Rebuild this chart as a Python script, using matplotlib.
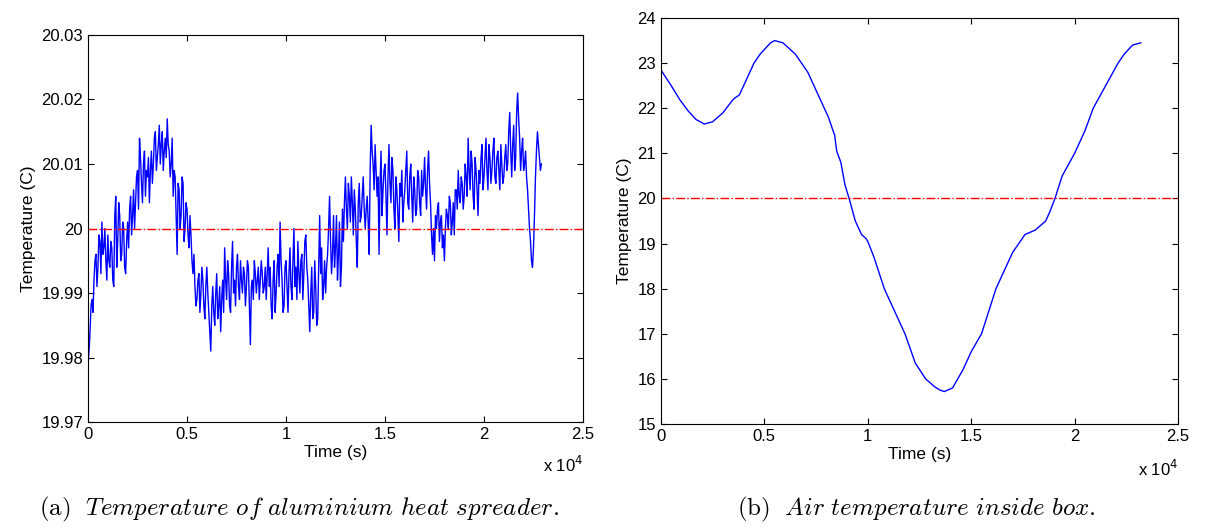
import matplotlib
matplotlib.use("Agg")
import matplotlib.pyplot as plt

plt.rcParams["font.family"] = ["Liberation Sans", "DejaVu Sans"]
plt.rcParams["mathtext.fontset"] = "cm"

# (a) heat spreader temperature, deviation from 20 C in mK
# readings at t = 0, 100, 200, ... s
spreader_mk = [
    -21, -16, -11, -8, -4, -6, -2, 1, -3, -5,
    -1, -6, -3, -9, 5, -2, 2, -4, 0, -7,
    1, 3, -1, 6, 4, 9, 14, 7, 10, 5,
    8, 4, 12, 10, 15, 11, 16, 13, 9, 14,
    17, 12, 10, 5, 8, -4, 6, 2, 7, 0,
    3, -3, -1, -7, -9, -11, -7, -10, -8, -14,
    -6, -13, -19, -9, -15, -7, -12, -16, -8, -3,
    -11, -7, -13, -2, -8, -6, -9, -5, -10, -7,
    -9, -6, -18, -8, -5, -10, -6, -8, -7, -9,
    -11, -3, -6, -14, -5, -10, -4, 1, -8, -12,
    -5, -13, -3, -11, 0, -6, -2, -10, -4, -7,
    -1, -8, -16, -6, -13, -9, -14, 2, -3, -9,
    -10, -4, 5, -7, 2, -3, -8, 1, -6, -2,
    8, 0, 5, 8, -1, 3, -6, 7, 2, 8,
    0, 5, -4, 16, 10, 13, 5, -4, 12, 6,
    10, -1, 13, 4, 9, 0, 6, -2, 5, 1,
    6, 12, 3, 10, 1, 6, 3, 8, 2, 5,
    11, 3, 12, 4, -4, -5, 0, 4, 1, -3,
    -5, 3, 0, 4, 1, -1, 6, 9, 4, 7,
    5, 8, 14, 6, 10, 3, 9, 2, 7, 13,
    8, 14, 6, 11, 9, 14, 7, 12, 6, 10,
    8, 13, 10, 18, 8, 16, 11, 21, 14, 12,
    9, 12, 6, 0, -5, -3, 8, 15, 11, 10,
]
# readings at t = 50, 150, 250, ... s
spreader_mid_mk = [
    -19, -12, -13, -5, -9, -1, -7, -4, 0, -8,
    -5, -2, -8, 2, -6, 4, -5, 1, -6, -2,
    -3, 5, 2, 0, 8, 3, 11, 4, 12, 9,
    11, 9, 7, 14, 9, 13, 10, 15, 12, 11,
    13, 8, 14, 9, 2, 7, 0, 8, -2, 4,
    -1, 2, -5, -4, -12, -8, -13, -6, -12, -9,
    -10, -16, -12, -13, -10, -14, -9, -11, -13, -8,
    -5, -12, -6, -10, -12, -4, -11, -8, -6, -12,
    -5, -12, -9, -11, -7, -8, -11, -5, -10, -6,
    -7, -9, -12, -8, -13, -6, -9, -5, -13, -6,
    -9, -7, -9, -5, -9, -11, -7, -5, -11, -2,
    -6, -12, -10, -14, -5, -15, -6, -7, -11, -5,
    -6, 0, -2, -4, -6, 2, -4, -9, 3, 4,
    3, 7, 1, 4, 6, -2, 4, 1, 5, 3,
    3, 1, 9, 12, 6, 9, 8, 7, 2, 9,
    5, 8, 7, 11, 3, 8, 2, 7, 9, 4,
    9, 4, 8, 5, 8, 2, 9, 4, 9, 7,
    6, 9, 7, -1, 0, 2, 3, -2, 2, -1,
    0, 2, 5, -1, 4, 6, 3, 5, 8, 3,
    10, 5, 9, 12, 5, 11, 6, 9, 11, 6,
    11, 9, 13, 7, 12, 8, 11, 9, 13, 7,
    11, 9, 15, 12, 13, 9, 18, 17, 9, 14,
    10, 8, 3, -2, -6, 2, 12, 13, 9,
]
spreader_time = []
spreader_temp = []
for i, v in enumerate(spreader_mk):
    spreader_time.append(100 * i)
    spreader_temp.append(20 + v / 1000)
    if i < len(spreader_mid_mk):
        spreader_time.append(100 * i + 50)
        spreader_temp.append(20 + spreader_mid_mk[i] / 1000)

# (b) air temperature inside the box
air_time = [0, 500, 900, 1300, 1700, 2100, 2500, 3000, 3500, 3800, 4200, 4500,
            4800, 5300, 5500, 5900, 6500, 7100, 7600, 8100, 8400, 8500, 8700,
            8900, 9100, 9400, 9700, 9900, 10000, 10300, 10800, 11300, 11800,
            12300, 12800, 13250, 13500, 13700, 14100, 14600, 15000, 15500,
            16200, 17000, 17600, 18100, 18600, 18800, 19050, 19400, 20000,
            20500, 20900, 21500, 22100, 22400, 22800, 23200]
air_temp = [22.85, 22.5, 22.2, 21.95, 21.75, 21.65, 21.7, 21.9, 22.2, 22.3,
            22.7, 23.0, 23.2, 23.45, 23.5, 23.45, 23.2, 22.8, 22.3, 21.8,
            21.4, 21.05, 20.8, 20.3, 20.0, 19.5, 19.2, 19.12, 19.05, 18.7,
            18.0, 17.5, 17.0, 16.35, 16.0, 15.82, 15.75, 15.72, 15.8, 16.2,
            16.6, 17.0, 18.0, 18.8, 19.2, 19.3, 19.5, 19.7, 20.0, 20.5,
            21.0, 21.5, 22.0, 22.5, 23.0, 23.2, 23.4, 23.45]

setpoint = 20.0
x_ticks = [0, 5000, 10000, 15000, 20000, 25000]
x_labels = ["0", "0.5", "1", "1.5", "2", "2.5"]
left_yticks = [19.97, 19.98, 19.99, 20.0, 20.01, 20.02, 20.03]
left_ylabels = ["19.97", "19.98", "19.99", "20", "20.01", "20.02", "20.03"]
right_yticks = [15, 16, 17, 18, 19, 20, 21, 22, 23, 24]

fig = plt.figure(figsize=(12.06, 5.27), dpi=100)
ax1 = fig.add_axes([0.073, 0.1992, 0.4104, 0.7344])
ax2 = fig.add_axes([0.548, 0.1954, 0.4288, 0.7704])

ax1.plot(spreader_time, spreader_temp, color="blue", lw=1.0)
ax1.axhline(setpoint, color="red", ls="-.", lw=1.0)
ax1.set_ylim(19.97, 20.03)
ax1.set_yticks(left_yticks)
ax1.set_yticklabels(left_ylabels)

ax2.plot(air_time, air_temp, color="blue", lw=1.0)
ax2.axhline(setpoint, color="red", ls="-.", lw=1.0)
ax2.set_ylim(15, 24)
ax2.set_yticks(right_yticks)

for ax in (ax1, ax2):
    ax.set_xlim(0, 25000)
    ax.set_xticks(x_ticks)
    ax.set_xticklabels(x_labels)
    ax.tick_params(direction="in", top=True, right=True, labelsize=12, length=4)
    ax.set_xlabel("Time (s)", fontsize=12.5, labelpad=2)
    ax.set_ylabel("Temperature (C)", fontsize=12.5, labelpad=4)
    ax.text(1.0, -0.085, r"x 10$^{4}$", transform=ax.transAxes, fontsize=12,
            ha="right", va="top", math_fontfamily="dejavusans")

fig.text(0.248, 0.022, r"$\mathrm{(a)}\ \ \mathit{Temperature\ of\ aluminium\ heat\ spreader.}$",
         fontsize=18, ha="center")
fig.text(0.76, 0.022, r"$\mathrm{(b)}\ \ \mathit{Air\ temperature\ inside\ box.}$",
         fontsize=18, ha="center")

fig.savefig("out.png", dpi=100)
